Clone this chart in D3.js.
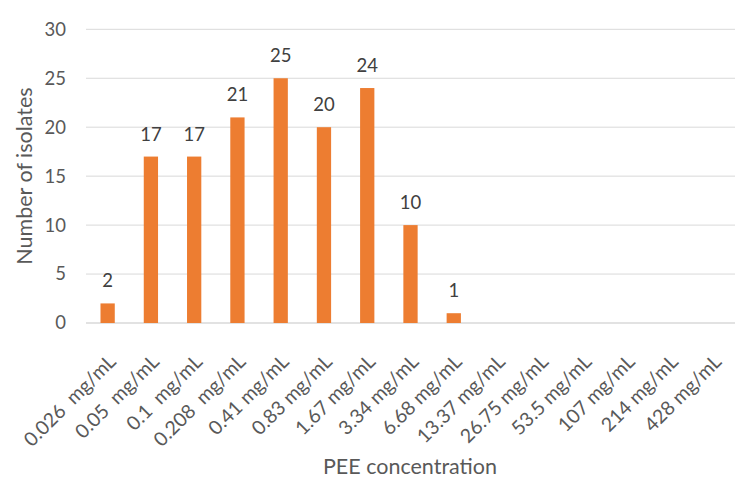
<!DOCTYPE html>
<html><head><meta charset="utf-8">
<script src="https://cdn.jsdelivr.net/npm/d3@7"></script>
<style>body{margin:0;background:#fff}svg{display:block}text{font-family:Lato,"Open Sans",sans-serif}</style>
</head><body><svg id="c" width="750" height="484"></svg>
<script>
const categories = ["0.026  mg/mL","0.05  mg/mL","0.1  mg/mL","0.208  mg/mL","0.41 mg/mL","0.83 mg/mL","1.67 mg/mL","3.34 mg/mL","6.68 mg/mL","13.37 mg/mL","26.75 mg/mL","53.5 mg/mL","107 mg/mL","214 mg/mL","428 mg/mL"];
const values = [2,17,17,21,25,20,24,10,1,null,null,null,null,null,null];
const yTicks = [0,5,10,15,20,25,30];

const svg = d3.select("#c");
const L = 86, R = 735, T = 29.3, B = 323;
const x = d3.scaleBand().domain(categories).range([L, R]).paddingInner(0.67).paddingOuter(0.335);
const y = d3.scaleLinear().domain([0, 30]).range([B, T]);

// gridlines
svg.append("g").selectAll("line").data(yTicks).join("line")
  .attr("x1", L).attr("x2", R).attr("y1", d => y(d)).attr("y2", d => y(d))
  .attr("stroke", "#d9d9d9").attr("stroke-width", d => d === 0 ? 1.5 : 1);

// y axis labels
const yAxis = svg.append("g").attr("transform", `translate(${L},0)`)
  .call(d3.axisLeft(y).tickValues(yTicks).tickSize(0).tickPadding(20));
yAxis.select(".domain").remove();
yAxis.selectAll("text").attr("font-size", 18.5).attr("fill", "#595959").attr("font-family", "Lato");

// bars
const data = categories.map((c, i) => ({c, v: values[i]})).filter(d => d.v != null);
svg.append("g").selectAll("rect").data(data).join("rect")
  .attr("x", d => x(d.c)).attr("width", x.bandwidth())
  .attr("y", d => y(d.v)).attr("height", d => y(0) - y(d.v))
  .attr("fill", "#ed7d31");

// data labels
svg.append("g").selectAll("text").data(data).join("text")
  .attr("x", d => x(d.c) + x.bandwidth() / 2).attr("y", d => y(d.v) - 16)
  .attr("text-anchor", "middle").attr("font-size", 18.5).attr("fill", "#404040")
  .text(d => d.v);

// x axis labels
const xAxis = svg.append("g").attr("transform", `translate(0,${B})`)
  .call(d3.axisBottom(x).tickSize(0).tickPadding(0));
xAxis.select(".domain").remove();
xAxis.selectAll("text")
  .attr("font-size", 19.5).attr("fill", "#595959").attr("font-family", "Lato")
  .attr("text-anchor", "end").attr("y", 0).attr("dy", "0.35em")
  .attr("transform", "translate(4.5,35) rotate(-45)")
  .style("white-space", "pre").attr("xml:space", "preserve");

// axis titles
svg.append("text").attr("x", 410).attr("y", 474).attr("text-anchor", "middle")
  .attr("font-size", 21.5).attr("fill", "#595959").text("PEE concentration");
svg.append("text").attr("transform", `translate(32,176) rotate(-90)`).attr("text-anchor", "middle")
  .attr("font-size", 21.5).attr("fill", "#595959").text("Number of isolates");
</script></body></html>
